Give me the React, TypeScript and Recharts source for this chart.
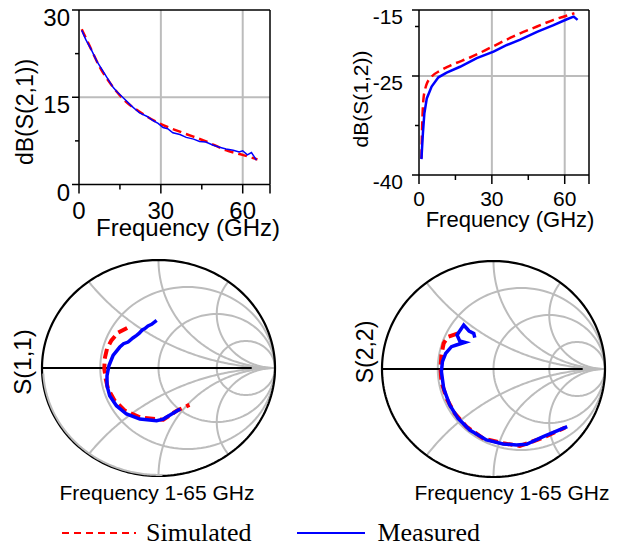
import React from "react";
import { LineChart, Line, XAxis, YAxis, ReferenceLine } from "recharts";

const SANS = "Arial, 'Liberation Sans', Helvetica, sans-serif";
const SERIF = "'Times New Roman', 'Liberation Serif', serif";
const RED = "#ff0000";
const BLUE = "#0000ff";
const GRID = "#bcbcbc";

// dB(S(2,1)) vs frequency (GHz)
const s21SimFreq = [1, 4, 7.6, 11.9, 16.2, 22.2, 29.5, 38, 46.6, 53.8, 59.9, 65.4];
const s21SimDb = [26.7, 23.7, 20.2, 17.1, 14.7, 12.5, 10.5, 8.9, 7.4, 5.9, 5.1, 4.3];
const s21MeasFreq = [1, 2.5, 4.6, 6.5, 8.9, 10.5, 12.5, 14, 16.2, 19, 22.2, 25, 27.1, 29, 30.8, 32.5, 34.4, 37, 39.3, 42, 44.2, 46.5, 49, 51.5, 53.9, 56.5, 58.7, 60, 61.7, 63.2, 64.2, 65];
const s21MeasDb = [26.5, 24.9, 23.1, 21.2, 19.4, 18.2, 16.7, 15.9, 14.9, 13.6, 12.3, 11.7, 11.0, 10.5, 9.8, 9.6, 8.9, 8.6, 8.1, 7.8, 7.4, 7.3, 6.8, 6.4, 6.1, 5.9, 5.6, 5.8, 5.1, 5.5, 4.8, 4.2];

// dB(S(1,2)) vs frequency (GHz)
const s12SimFreq = [1, 1.3, 1.8, 3, 5.2, 8.7, 14.2, 21, 30, 38.9, 48.6, 55.4, 64];
const s12SimDb = [-37.5, -32.7, -28.6, -26.4, -25.1, -24.2, -23.2, -22.2, -20.6, -19.0, -17.5, -16.5, -15.5];
const s12MeasFreq = [1, 1.6, 2.2, 3.2, 5.2, 8, 11.4, 16.9, 23.8, 30.7, 36.2, 41.7, 48.6, 55.4, 60.9, 63.7, 65.3];
const s12MeasDb = [-37.6, -33.7, -30.7, -28.4, -26.6, -25.2, -24.5, -23.6, -22.3, -21.3, -20.3, -19.5, -18.3, -17.3, -16.4, -16.0, -16.5];

// S(1,1) reflection coefficient, 1-65 GHz (real / imaginary)
const s11SimRe = [-0.269, -0.347, -0.404, -0.442, -0.462, -0.465, -0.453, -0.433, -0.376, -0.289, -0.16, 0.041, 0.157, 0.266];
const s11SimIm = [0.371, 0.327, 0.256, 0.178, 0.085, -0.008, -0.101, -0.194, -0.302, -0.395, -0.457, -0.479, -0.395, -0.342];
const s11MeasRe = [-0.016, -0.059, -0.09, -0.117, -0.14, -0.165, -0.188, -0.22, -0.261, -0.3, -0.332, -0.39, -0.425, -0.442, -0.442, -0.419, -0.361, -0.275, -0.16, -0.016, 0.041, 0.186];
const s11MeasIm = [0.442, 0.405, 0.39, 0.365, 0.352, 0.322, 0.302, 0.278, 0.24, 0.225, 0.194, 0.116, 0.023, -0.07, -0.163, -0.256, -0.349, -0.426, -0.473, -0.488, -0.473, -0.38];

// S(2,2) reflection coefficient, 1-65 GHz (real / imaginary)
const s22SimRe = [-0.318, -0.408, -0.447, -0.467, -0.476, -0.467, -0.422, -0.348, -0.243, -0.093, 0.086, 0.236, 0.446, 0.641];
const s22SimIm = [0.33, 0.299, 0.238, 0.13, 0.006, -0.117, -0.272, -0.41, -0.534, -0.642, -0.688, -0.713, -0.636, -0.543];
const s22MeasRe = [0.661, 0.446, 0.296, 0.207, 0.086, -0.063, -0.213, -0.318, -0.393, -0.447, -0.467, -0.458, -0.429, -0.377, -0.333, -0.258, -0.303, -0.327, -0.267, -0.219, -0.177, -0.168];
const s22MeasIm = [-0.534, -0.627, -0.697, -0.704, -0.694, -0.657, -0.565, -0.457, -0.333, -0.179, -0.025, 0.068, 0.145, 0.207, 0.222, 0.247, 0.259, 0.315, 0.407, 0.352, 0.33, 0.29];

// Smith chart grid values
const smithResistances = [1 / 3, 1, 3];
const smithReactances = [0.5, 1, 2];

type Pt = { x: number; y: number };

const toSeries = (fs: number[], vs: number[]) => fs.map((f, i) => ({ f, v: vs[i] }));
const toGamma = (re: number[], im: number[]): Pt[] => re.map((x, i) => ({ x, y: im[i] }));

const clamp = (v: number) => Math.max(-1, Math.min(1, v));
const deg = (d: number) => (d / 180) * Math.PI;

function arcPoints(cx: number, cy: number, r: number, a0: number, a1: number, n = 120): Pt[] {
  const pts: Pt[] = [];
  for (let i = 0; i <= n; i++) {
    const a = a0 + ((a1 - a0) * i) / n;
    pts.push({ x: clamp(cx + r * Math.cos(a)), y: clamp(cy + r * Math.sin(a)) });
  }
  return pts;
}

function smithGrid(): Pt[][] {
  const lines: Pt[][] = [];
  smithResistances.forEach((r) => lines.push(arcPoints(r / (1 + r), 0, 1 / (1 + r), 0, 2 * Math.PI)));
  smithReactances.forEach((x) => {
    const R = 1 / x;
    const px = (x * x - 1) / (x * x + 1);
    const py = (2 * x) / (x * x + 1);
    let a0 = Math.atan2(py - R, px - 1);
    if (a0 < 0) a0 += 2 * Math.PI;
    const upper = arcPoints(1, R, R, a0, 1.5 * Math.PI);
    lines.push(upper);
    lines.push(upper.map((p) => ({ x: p.x, y: -p.y })));
  });
  return lines;
}

function makeXTick(labels: number[], majors: number[], fontSize: number, dy: number) {
  return (props: any) => {
    const { x, y, payload } = props;
    const v = payload.value;
    const len = majors.includes(v) ? 9 : 5;
    return (
      <g>
        <line x1={x} y1={y} x2={x} y2={y + len} stroke="#000" strokeWidth={1.5} />
        {labels.includes(v) && (
          <text x={x} y={y + dy} textAnchor="middle" fontSize={fontSize} fontFamily={SANS} fill="#000">
            {v}
          </text>
        )}
      </g>
    );
  };
}

function makeYTick(labels: number[], majors: number[], fontSize: number, gap: number, dy: number) {
  return (props: any) => {
    const { x, y, payload } = props;
    const v = payload.value;
    const len = majors.includes(v) ? 7 : 4;
    return (
      <g>
        <line x1={x - len} y1={y} x2={x} y2={y} stroke="#000" strokeWidth={1.5} />
        {labels.includes(v) && (
          <text x={x - gap} y={y + dy} textAnchor="end" fontSize={fontSize} fontFamily={SANS} fill="#000">
            {v}
          </text>
        )}
      </g>
    );
  };
}

function Lbl({ x, y, size, rotate, font = SANS, children }: any) {
  return (
    <div
      style={{
        position: "absolute",
        left: x,
        top: y,
        transform: `translate(-50%, -50%)${rotate ? " rotate(-90deg)" : ""}`,
        fontSize: size,
        fontFamily: font,
        lineHeight: 1,
        whiteSpace: "nowrap",
        color: "#000",
      }}
    >
      {children}
    </div>
  );
}

function SmithChart({ left, top, width, height, sim, meas, grayRim }: { left: number; top: number; width: number; height: number; sim: Pt[]; meas: Pt[]; grayRim: boolean }) {
  const grid = smithGrid();
  const outer = arcPoints(0, 0, 1, 0, 2 * Math.PI, 240);
  const rim = arcPoints(0, 0, 0.99, deg(183), deg(272));
  const axis: Pt[] = [{ x: -1, y: 0 }, { x: 0.8, y: 0 }];
  return (
    <div style={{ position: "absolute", left, top }}>
      <LineChart width={width} height={height} margin={{ top: 6, right: 6, bottom: 6, left: 6 }}>
        <XAxis type="number" dataKey="x" domain={[-1, 1]} hide />
        <YAxis type="number" dataKey="y" domain={[-1, 1]} hide />
        {grid.map((pts, i) => (
          <Line key={`g${i}`} data={pts} dataKey="y" stroke={GRID} strokeWidth={2} dot={false} isAnimationActive={false} />
        ))}
        <Line data={outer} dataKey="y" stroke="#000" strokeWidth={2.2} dot={false} isAnimationActive={false} />
        {grayRim && <Line data={rim} dataKey="y" stroke={GRID} strokeWidth={2} dot={false} isAnimationActive={false} />}
        <Line data={axis} dataKey="y" stroke="#000" strokeWidth={2.2} dot={false} isAnimationActive={false} />
        <Line data={sim} dataKey="y" stroke={RED} strokeWidth={4} strokeDasharray="10 5" dot={false} isAnimationActive={false} />
        <Line data={meas} dataKey="y" stroke={BLUE} strokeWidth={3.5} dot={false} isAnimationActive={false} />
      </LineChart>
    </div>
  );
}

export default function App() {
  const s21Sim = toSeries(s21SimFreq, s21SimDb);
  const s21Meas = toSeries(s21MeasFreq, s21MeasDb);
  const s12Sim = toSeries(s12SimFreq, s12SimDb);
  const s12Meas = toSeries(s12MeasFreq, s12MeasDb);
  const axisStyle = { stroke: "#000", strokeWidth: 1.5 };

  return (
    <div style={{ position: "absolute", left: 0, top: 0, width: 623, height: 546, background: "#fff", overflow: "hidden" }}>
      {/* top left: S21 */}
      <div style={{ position: "absolute", left: 0, top: 0 }}>
        <LineChart width={300} height={250} margin={{ top: 10, right: 30, bottom: 0, left: 0 }}>
          <ReferenceLine x={30} stroke={GRID} strokeWidth={2} />
          <ReferenceLine x={60} stroke={GRID} strokeWidth={2} />
          <ReferenceLine y={15} stroke={GRID} strokeWidth={2} />
          <ReferenceLine y={30} stroke="#000" strokeWidth={1.5} />
          <ReferenceLine x={70} stroke="#000" strokeWidth={1.5} />
          <XAxis
            type="number"
            dataKey="f"
            domain={[0, 70]}
            ticks={[0, 15, 30, 45, 60, 70]}
            interval={0}
            height={65.5}
            tickLine={false}
            tickSize={0}
            tickMargin={0}
            axisLine={axisStyle}
            tick={makeXTick([0, 30, 60], [0, 30, 60, 70], 24, 34)}
          />
          <YAxis
            type="number"
            domain={[0, 30]}
            ticks={[0, 7.5, 15, 22.5, 30]}
            interval={0}
            width={79}
            tickLine={false}
            tickSize={0}
            tickMargin={0}
            axisLine={axisStyle}
            tick={makeYTick([0, 15, 30], [0, 15, 30], 24, 9, 16)}
          />
          <Line data={s21Sim} dataKey="v" type="monotone" stroke={RED} strokeWidth={2.5} strokeDasharray="9 5" dot={false} isAnimationActive={false} />
          <Line data={s21Meas} dataKey="v" stroke={BLUE} strokeWidth={1.5} dot={false} isAnimationActive={false} />
        </LineChart>
      </div>

      {/* top right: S12 */}
      <div style={{ position: "absolute", left: 320, top: 0 }}>
        <LineChart width={300} height={250} margin={{ top: 10, right: 31, bottom: 0, left: 0 }}>
          <ReferenceLine x={30} stroke={GRID} strokeWidth={2} />
          <ReferenceLine x={60} stroke={GRID} strokeWidth={2} />
          <ReferenceLine y={-25} stroke={GRID} strokeWidth={2} />
          <ReferenceLine y={-15} stroke="#000" strokeWidth={1.5} />
          <ReferenceLine x={70} stroke="#000" strokeWidth={1.5} />
          <XAxis
            type="number"
            dataKey="f"
            domain={[0, 70]}
            ticks={[0, 15, 30, 45, 60, 70]}
            interval={0}
            height={75}
            tickLine={false}
            tickSize={0}
            tickMargin={0}
            axisLine={axisStyle}
            tick={makeXTick([0, 30, 60], [0, 30, 60, 70], 21, 31)}
          />
          <YAxis
            type="number"
            domain={[-40, -15]}
            ticks={[-40, -32.5, -25, -17.5, -15]}
            interval={0}
            width={99}
            tickLine={false}
            tickSize={0}
            tickMargin={0}
            axisLine={axisStyle}
            tick={makeYTick([-40, -25, -15], [-40, -25, -15], 21, 16, 14)}
          />
          <Line data={s12Sim} dataKey="v" type="monotone" stroke={RED} strokeWidth={2.5} strokeDasharray="9 5" dot={false} isAnimationActive={false} />
          <Line data={s12Meas} dataKey="v" stroke={BLUE} strokeWidth={2.5} dot={false} isAnimationActive={false} />
        </LineChart>
      </div>

      <SmithChart left={36} top={254} width={245} height={228} grayRim sim={toGamma(s11SimRe, s11SimIm)} meas={toGamma(s11MeasRe, s11MeasIm)} />
      <SmithChart left={376} top={255} width={235} height={228} grayRim={false} sim={toGamma(s22SimRe, s22SimIm)} meas={toGamma(s22MeasRe, s22MeasIm)} />

      <Lbl x={25} y={112} size={23} rotate>dB(S(2,1))</Lbl>
      <Lbl x={188} y={228} size={24}>Frequency (GHz)</Lbl>
      <Lbl x={360} y={99} size={21} rotate>dB(S(1,2))</Lbl>
      <Lbl x={510} y={220} size={22}>Frequency (GHz)</Lbl>
      <Lbl x={23} y={362} size={24} rotate>S(1,1)</Lbl>
      <Lbl x={365} y={352} size={23} rotate>S(2,2)</Lbl>
      <Lbl x={157} y={492} size={21}>Frequency 1-65 GHz</Lbl>
      <Lbl x={512} y={492} size={21}>Frequency 1-65 GHz</Lbl>

      {/* legend */}
      <div style={{ position: "absolute", left: 62, top: 520, display: "flex", alignItems: "center", fontFamily: SERIF, fontSize: 26, lineHeight: 1 }}>
        <svg width={74} height={10} style={{ marginRight: 10 }}>
          <line x1={0} y1={5} x2={74} y2={5} stroke={RED} strokeWidth={2} strokeDasharray="7 5" />
        </svg>
        <span>Simulated</span>
        <svg width={68} height={10} style={{ marginLeft: 46, marginRight: 12 }}>
          <line x1={0} y1={5} x2={68} y2={5} stroke={BLUE} strokeWidth={2} />
        </svg>
        <span>Measured</span>
      </div>
    </div>
  );
}
